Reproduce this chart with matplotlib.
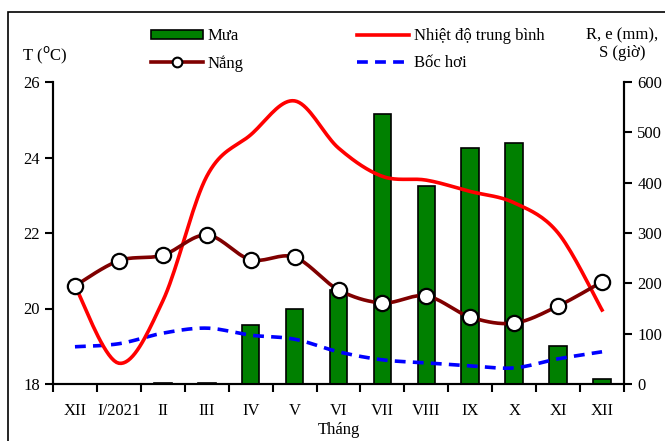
import numpy as np
import matplotlib
matplotlib.use("Agg")
import matplotlib.pyplot as plt
from matplotlib.lines import Line2D
from matplotlib.patches import Patch, Rectangle

plt.rcParams['font.family'] = ['Liberation Serif', 'DejaVu Serif']

# data
months = ['XII', 'I/2021', 'II', 'III', 'IV', 'V', 'VI', 'VII', 'VIII', 'IX', 'X', 'XI', 'XII']
rain = [0, 0, 2, 2, 117, 149, 187, 537, 394, 469, 479, 76, 10]          # Mưa (mm)
sunshine = [195, 245, 256, 296, 247, 252, 187, 161, 175, 133, 121, 155, 203]  # Nắng (giờ)
evap = [74, 80, 101, 111, 97, 89, 64, 48, 42, 36, 32, 50, 64]          # Bốc hơi (mm)
temp = [20.6, 18.55, 20.2, 23.5, 24.6, 25.5, 24.25, 23.5, 23.4, 23.1, 22.8, 22.0, 19.96]  # T (oC)


def smooth(x, y, n=20):
    # Excel-style smoothed line: Catmull-Rom bezier between the points
    x = np.asarray(x, float)
    y = np.asarray(y, float)
    px = np.concatenate([[x[0]], x, [x[-1]]])
    py = np.concatenate([[y[0]], y, [y[-1]]])
    xs, ys = [], []
    t = np.linspace(0, 1, n)
    for i in range(1, len(px) - 2):
        p0 = np.array([px[i], py[i]])
        p3 = np.array([px[i + 1], py[i + 1]])
        c1 = p0 + (np.array([px[i + 1], py[i + 1]]) - np.array([px[i - 1], py[i - 1]])) / 6
        c2 = p3 - (np.array([px[i + 2], py[i + 2]]) - p0) / 6
        b = ((1 - t) ** 3)[:, None] * p0 + (3 * (1 - t) ** 2 * t)[:, None] * c1 \
            + (3 * (1 - t) * t ** 2)[:, None] * c2 + (t ** 3)[:, None] * p3
        xs.extend(b[:, 0])
        ys.extend(b[:, 1])
    return np.array(xs), np.array(ys)


fig = plt.figure(figsize=(6.65, 4.41), dpi=100)
fig.patches.append(Rectangle((8 / 665, -0.1), 1.2, 1 - 12 / 441 + 0.1, transform=fig.transFigure,
                             fill=False, edgecolor='black', lw=1.2))

ax = fig.add_axes([53 / 665, 57 / 441, 571 / 665, 302 / 441])
ax2 = ax.twinx()
x = np.arange(len(months))

# right axis: rain bars, sunshine, evaporation
ax2.bar(x, rain, width=0.4, color='#008000', edgecolor='black', lw=1.2, zorder=2)
ex, ey = smooth(x, evap)
ax2.plot(ex, ey, color='#0000FF', lw=2.6, dashes=(3, 2), zorder=3)
sx, sy = smooth(x, sunshine)
ax2.plot(sx, sy, color='#800000', lw=2.6, zorder=5)
ax2.plot(x, sunshine, 'o', ms=11, mfc='white', mec='black', mew=1.6, zorder=6)

# temperature on left axis, drawn in ax2 coords via conversion
tx, ty = smooth(x, temp)
ax2.plot(tx, (ty - 18) / 8 * 600, color='#FF0000', lw=2.6, zorder=4)

ax.set_ylim(18, 26)
ax.set_yticks([18, 20, 22, 24, 26])
ax2.set_ylim(0, 600)
ax2.set_yticks(range(0, 601, 100))
ax.set_xlim(-0.5, len(months) - 0.5)
ax.set_xticks(np.arange(-0.5, len(months), 1.0))
ax.set_xticklabels([])
ax.set_xticks(x, minor=True)
ax.set_xticklabels(months, minor=True)
ax.tick_params(axis='x', which='minor', length=0, labelsize=12, pad=14)
ax.tick_params(axis='x', which='major', length=6, width=1.5, direction='out')
ax.tick_params(axis='y', labelsize=12, length=6, width=1.5, direction='out')
ax2.tick_params(axis='y', labelsize=12, length=6, width=1.5, direction='out')
for a in (ax, ax2):
    a.spines['top'].set_visible(False)
    for s in ('left', 'right', 'bottom'):
        a.spines[s].set_linewidth(1.5)
ax.set_xlabel('Tháng', fontsize=12, labelpad=2)

fig.text(45 / 665, 1 - 55 / 441, 'T ($^{\\rm o}$C)', ha='center', va='center', fontsize=12)
fig.text(622 / 665, 1 - 44 / 441, 'R, e (mm),\nS (giờ)', ha='center', va='center', fontsize=12,
         linespacing=1.1)

handles = [Patch(facecolor='#008000', edgecolor='black', lw=1.2),
           Line2D([], [], color='#800000', lw=2.6, marker='o', ms=7, mfc='white', mec='black', mew=1.5),
           Line2D([], [], color='#FF0000', lw=2.6),
           Line2D([], [], color='#0000FF', lw=2.6, dashes=(3, 2))]
labels = ['Mưa', 'Nắng', 'Nhiệt độ trung bình', 'Bốc hơi']
fig.legend(handles, labels, ncol=2, loc='center left', bbox_to_anchor=(151 / 665, 1 - 50 / 441),
           frameon=False, fontsize=12, handlelength=3.1, handleheight=0.5, handletextpad=0.3,
           columnspacing=6.8, labelspacing=0.65, borderpad=0, borderaxespad=0)

fig.savefig('out.png', dpi=100)
